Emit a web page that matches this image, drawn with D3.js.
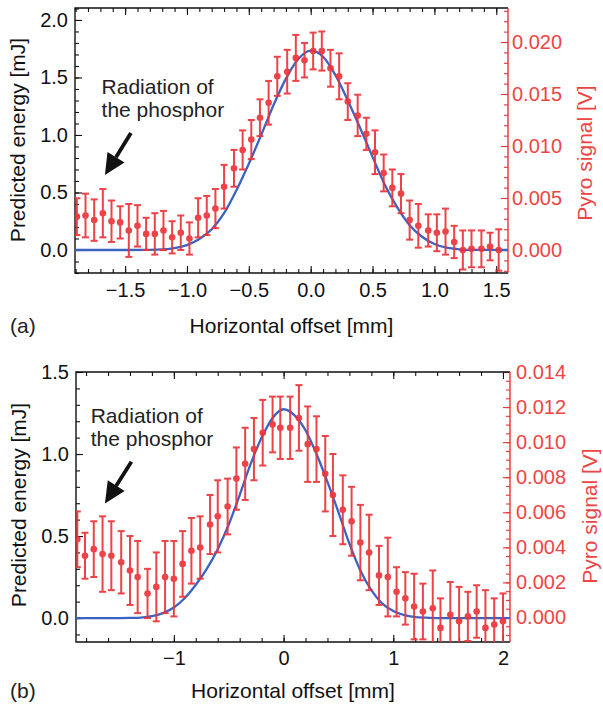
<!DOCTYPE html>
<html>
<head>
<meta charset="utf-8">
<script src="https://cdn.jsdelivr.net/npm/d3@7"></script>
<style>
  body { margin: 0; background: #fff; }
  text { font-family: "Liberation Sans", Arial, sans-serif; }
</style>
</head>
<body>
<div id="chart"></div>
<script>
// panel (a) measured points, in mJ (left axis)
const aX = [-1.89,-1.82,-1.75,-1.68,-1.61,-1.54,-1.47,-1.40,-1.33,-1.26,-1.19,-1.12,-1.05,-0.98,-0.91,-0.84,-0.77,-0.70,-0.62,-0.55,-0.48,-0.41,-0.34,-0.27,-0.19,
            -0.12,-0.05,0.02,0.09,0.16,0.23,0.30,0.38,0.45,0.52,0.59,0.66,0.73,0.80,0.87,0.95,1.02,1.09,1.16,1.23,1.30,1.38,1.45,1.52];
const aY = [0.29,0.30,0.26,0.32,0.25,0.24,0.17,0.21,0.14,0.14,0.17,0.11,0.15,0.10,0.28,0.30,0.36,0.55,0.71,0.87,0.96,1.15,1.28,1.51,1.55,
            1.67,1.65,1.73,1.73,1.58,1.51,1.29,1.17,1.01,0.85,0.67,0.54,0.49,0.26,0.21,0.17,0.15,0.16,0.07,0.00,0.01,0.01,0.03,0.00];
const aErr = [0.16,0.19,0.18,0.21,0.18,0.14,0.23,0.18,0.14,0.18,0.17,0.14,0.15,0.14,0.17,0.17,0.17,0.19,0.16,0.17,0.17,0.16,0.19,0.17,0.19,
              0.20,0.15,0.16,0.17,0.16,0.20,0.16,0.18,0.14,0.19,0.16,0.16,0.17,0.17,0.19,0.14,0.16,0.20,0.14,0.17,0.16,0.16,0.12,0.18];
// panel (a) predicted curve
const aCurveX = [-1.95,-1.5,-1.3,-1.2,-1.1,-1.0,-0.9,-0.8,-0.7,-0.6,-0.5,-0.4,-0.3,-0.2,-0.1,0,0.1,0.2,0.3,0.4,0.5,0.6,0.7,0.8,0.9,1.0,1.1,1.2,1.3,1.6];
const aCurveY = [0,0,0.001,0.005,0.016,0.042,0.095,0.18,0.32,0.52,0.75,1.0,1.26,1.49,1.66,1.733,1.68,1.52,1.30,1.06,0.81,0.565,0.37,0.215,0.115,0.052,0.02,0.006,0.001,0];

// panel (b) measured points
const bX = [-1.88,-1.81,-1.73,-1.65,-1.57,-1.48,-1.40,-1.33,-1.24,-1.16,-1.08,-1.00,-0.92,-0.84,-0.76,-0.67,-0.60,-0.51,-0.43,-0.35,-0.27,-0.19,-0.10,-0.03,0.06,
            0.14,0.22,0.30,0.38,0.45,0.54,0.62,0.70,0.78,0.87,0.95,1.03,1.11,1.19,1.27,1.36,1.43,1.52,1.60,1.68,1.76,1.84,1.92,2.00];
const bY = [0.48,0.38,0.42,0.39,0.38,0.34,0.29,0.25,0.15,0.19,0.25,0.24,0.33,0.41,0.43,0.57,0.62,0.68,0.85,0.94,1.03,1.13,1.18,1.16,1.16,
            1.22,1.06,1.03,0.88,0.75,0.66,0.59,0.46,0.40,0.26,0.25,0.16,0.12,0.07,0.04,0.06,-0.06,0.02,-0.02,0.01,0.04,-0.06,-0.04,-0.02];
const bErr = [0.17,0.14,0.17,0.23,0.21,0.19,0.21,0.22,0.15,0.21,0.22,0.23,0.20,0.20,0.19,0.18,0.22,0.17,0.19,0.22,0.19,0.20,0.17,0.19,0.19,
              0.20,0.23,0.20,0.23,0.25,0.21,0.21,0.23,0.23,0.18,0.24,0.15,0.16,0.20,0.17,0.23,0.18,0.20,0.21,0.15,0.16,0.23,0.16,0.17];
const bCurveX = [-1.95,-1.5,-1.4,-1.3,-1.2,-1.1,-1.0,-0.9,-0.8,-0.7,-0.6,-0.5,-0.4,-0.3,-0.2,-0.1,0,0.1,0.2,0.3,0.4,0.5,0.6,0.7,0.8,0.9,1.0,1.1,1.2,1.3,1.4,2.1];
const bCurveY = [0,0,0.001,0.003,0.011,0.03,0.064,0.122,0.203,0.30,0.42,0.57,0.75,0.94,1.10,1.22,1.273,1.236,1.145,1.0,0.83,0.646,0.454,0.29,0.17,0.088,0.043,0.018,0.006,0.002,0,0];

// tick labels
const aXTicks = [-1.5,-1.0,-0.5,0.0,0.5,1.0,1.5];
const aYTicks = [0.0,0.5,1.0,1.5,2.0];
const aRTicks = [0.000,0.005,0.010,0.015,0.020];
const bXTicks = [-1,0,1,2];
const bYTicks = [0.0,0.5,1.0,1.5];
const bRTicks = [0.000,0.002,0.004,0.006,0.008,0.010,0.012,0.014];

const red = "#ec3338";
const redText = "#ef4444";
const blue = "#3b63c1";

const svg = d3.select("#chart").append("svg")
    .attr("width", 603)
    .attr("height", 707);

function range(a, b, s) {
  const out = [];
  for (let v = a; v <= b + s / 2; v += s) out.push(+v.toFixed(6));
  return out;
}

function panel(p) {
  const g = svg.append("g");
  const x = d3.scaleLinear().domain(p.xDom).range([p.left, p.right]);
  const y = d3.scaleLinear().domain(p.yDom).range([p.bottom, p.top]);
  const yr = d3.scaleLinear().domain(p.rDom).range([p.bottom, p.top]);

  const clipId = "clip" + p.name;
  g.append("clipPath").attr("id", clipId)
    .append("rect")
    .attr("x", p.left).attr("y", p.top)
    .attr("width", p.right - p.left).attr("height", p.bottom - p.top);

  // minor ticks
  g.append("g").attr("transform", `translate(0,${p.bottom})`)
    .call(d3.axisBottom(x).tickValues(p.xMinor).tickSize(-4).tickFormat(""));
  g.append("g").attr("transform", `translate(0,${p.top})`)
    .call(d3.axisTop(x).tickValues(p.xMinor).tickSize(-4).tickFormat(""));
  g.append("g").attr("transform", `translate(${p.left},0)`)
    .call(d3.axisLeft(y).tickValues(p.yMinor).tickSize(-4).tickFormat(""));
  g.append("g").attr("class", "rminor").attr("transform", `translate(${p.right},0)`)
    .call(d3.axisRight(yr).tickValues(p.rMinor).tickSize(-4).tickFormat(""));

  // major ticks + labels
  g.append("g").attr("class", "xax").attr("transform", `translate(0,${p.bottom})`)
    .call(d3.axisBottom(x).tickValues(p.xTicks).tickSize(-7).tickPadding(p.xPad).tickFormat(p.xFmt));
  g.append("g").attr("transform", `translate(0,${p.top})`)
    .call(d3.axisTop(x).tickValues(p.xTicks).tickSize(-7).tickFormat(""));
  g.append("g").attr("class", "yax").attr("transform", `translate(${p.left},0)`)
    .call(d3.axisLeft(y).tickValues(p.yTicks).tickSize(-7).tickPadding(7).tickFormat(d3.format(".1f")));
  g.append("g").attr("class", "rax").attr("transform", `translate(${p.right},0)`)
    .call(d3.axisRight(yr).tickValues(p.rTicks).tickSize(-7).tickPadding(p.rPad).tickFormat(d3.format(".3f")));

  g.selectAll(".domain").remove();
  g.selectAll(".tick line").attr("stroke", "#111").attr("stroke-width", 1.1);
  g.selectAll(".rax .tick line, .rminor .tick line").attr("stroke", red);
  g.selectAll(".xax text, .yax text").attr("font-size", 20).attr("fill", "#111");
  g.selectAll(".rax text").attr("font-size", 20).attr("fill", redText);

  // frame
  g.append("path")
    .attr("d", `M${p.right},${p.top}H${p.left}V${p.bottom}H${p.right}`)
    .attr("fill", "none").attr("stroke", "#111").attr("stroke-width", 1.4);
  g.append("line")
    .attr("x1", p.right).attr("x2", p.right).attr("y1", p.top).attr("y2", p.bottom)
    .attr("stroke", red).attr("stroke-width", 1.4);

  const plot = g.append("g").attr("clip-path", `url(#${clipId})`);

  // predicted curve
  const curve = p.cx.map((v, i) => [v, p.cy[i]]);
  plot.append("path")
    .datum(curve)
    .attr("fill", "none")
    .attr("stroke", blue)
    .attr("stroke-width", 2.3)
    .attr("d", d3.line().x(d => x(d[0])).y(d => y(d[1])).curve(d3.curveMonotoneX));

  // measured points with error bars
  const pts = p.px.map((v, i) => ({x: v, y: p.py[i], e: p.pe[i]}));
  const bars = plot.selectAll(".bar").data(pts).enter().append("g")
    .attr("class", "bar")
    .attr("stroke", red).attr("stroke-width", 2).attr("opacity", 0.92);
  bars.append("line")
    .attr("x1", d => x(d.x)).attr("x2", d => x(d.x))
    .attr("y1", d => y(d.y - d.e)).attr("y2", d => y(d.y + d.e));
  bars.append("line")
    .attr("x1", d => x(d.x) - 3.5).attr("x2", d => x(d.x) + 3.5)
    .attr("y1", d => y(d.y + d.e)).attr("y2", d => y(d.y + d.e));
  bars.append("line")
    .attr("x1", d => x(d.x) - 3.5).attr("x2", d => x(d.x) + 3.5)
    .attr("y1", d => y(d.y - d.e)).attr("y2", d => y(d.y - d.e));
  bars.append("circle")
    .attr("cx", d => x(d.x)).attr("cy", d => y(d.y)).attr("r", 3.3)
    .attr("fill", red).attr("stroke", "none");

  // annotation
  const t = g.append("text").attr("font-size", 21).attr("fill", "#222");
  t.append("tspan").attr("x", x(p.note[0])).attr("y", y(p.note[1])).text("Radiation of");
  t.append("tspan").attr("x", x(p.note[0])).attr("dy", 23).text("the phosphor");

  const x1 = x(p.arrow[0]), y1 = y(p.arrow[1]), x2 = x(p.arrow[2]), y2 = y(p.arrow[3]);
  const ang = Math.atan2(y2 - y1, x2 - x1);
  const hl = 21, hw = 10;
  const bx = x2 - hl * Math.cos(ang), by = y2 - hl * Math.sin(ang);
  g.append("line")
    .attr("x1", x1).attr("y1", y1).attr("x2", bx).attr("y2", by)
    .attr("stroke", "#111").attr("stroke-width", 3.8);
  g.append("path")
    .attr("d", `M${x2},${y2}L${bx + hw * Math.sin(ang)},${by - hw * Math.cos(ang)}L${bx - hw * Math.sin(ang)},${by + hw * Math.cos(ang)}Z`)
    .attr("fill", "#111");

  // axis titles
  g.append("text")
    .attr("transform", `translate(${p.left - 50},${p.ltY}) rotate(-90)`)
    .attr("text-anchor", "middle").attr("font-size", 21).attr("fill", "#111")
    .text("Predicted energy [mJ]");
  g.append("text")
    .attr("transform", `translate(${p.rtX},${p.rtY}) rotate(-90)`)
    .attr("text-anchor", "middle").attr("font-size", 21).attr("fill", redText)
    .text("Pyro signal [V]");
  g.append("text")
    .attr("x", (p.left + p.right) / 2).attr("y", p.btY)
    .attr("text-anchor", "middle").attr("font-size", 21).attr("fill", "#111")
    .text("Horizontal offset [mm]");
  g.append("text")
    .attr("x", 10).attr("y", p.btY)
    .attr("font-size", 21).attr("fill", "#222")
    .text(p.label);
}

panel({
  name: "a", left: 75, right: 508, top: 8, bottom: 273,
  xDom: [-1.905, 1.595], yDom: [-0.2, 2.104], rDom: [-0.00221, 0.02327],
  xTicks: aXTicks, yTicks: aYTicks, rTicks: aRTicks,
  xMinor: range(-1.9, 1.5, 0.1), yMinor: range(-0.2, 2.1, 0.1), rMinor: range(-0.002, 0.023, 0.001),
  xFmt: d3.format(".1f"), xPad: 10, rPad: 4,
  px: aX, py: aY, pe: aErr, cx: aCurveX, cy: aCurveY,
  note: [-1.69, 1.36], arrow: [-1.453, 1.017, -1.663, 0.652],
  ltY: 140, rtX: 592, rtY: 153, btY: 333, label: "(a)"
});

panel({
  name: "b", left: 76, right: 510, top: 372, bottom: 642,
  xDom: [-1.892, 2.064], yDom: [-0.146, 1.5], rDom: [-0.0014, 0.014],
  xTicks: bXTicks, yTicks: bYTicks, rTicks: bRTicks,
  xMinor: range(-1.8, 2.0, 0.2), yMinor: range(-0.1, 1.5, 0.1), rMinor: range(-0.001, 0.014, 0.0005),
  xFmt: d3.format("d"), xPad: 9, rPad: 6,
  px: bX, py: bY, pe: bErr, cx: bCurveX, cy: bCurveY,
  note: [-1.758, 1.187], arrow: [-1.387, 0.953, -1.628, 0.699],
  ltY: 505, rtX: 597, rtY: 516, btY: 698, label: "(b)"
});
</script>
</body>
</html>
